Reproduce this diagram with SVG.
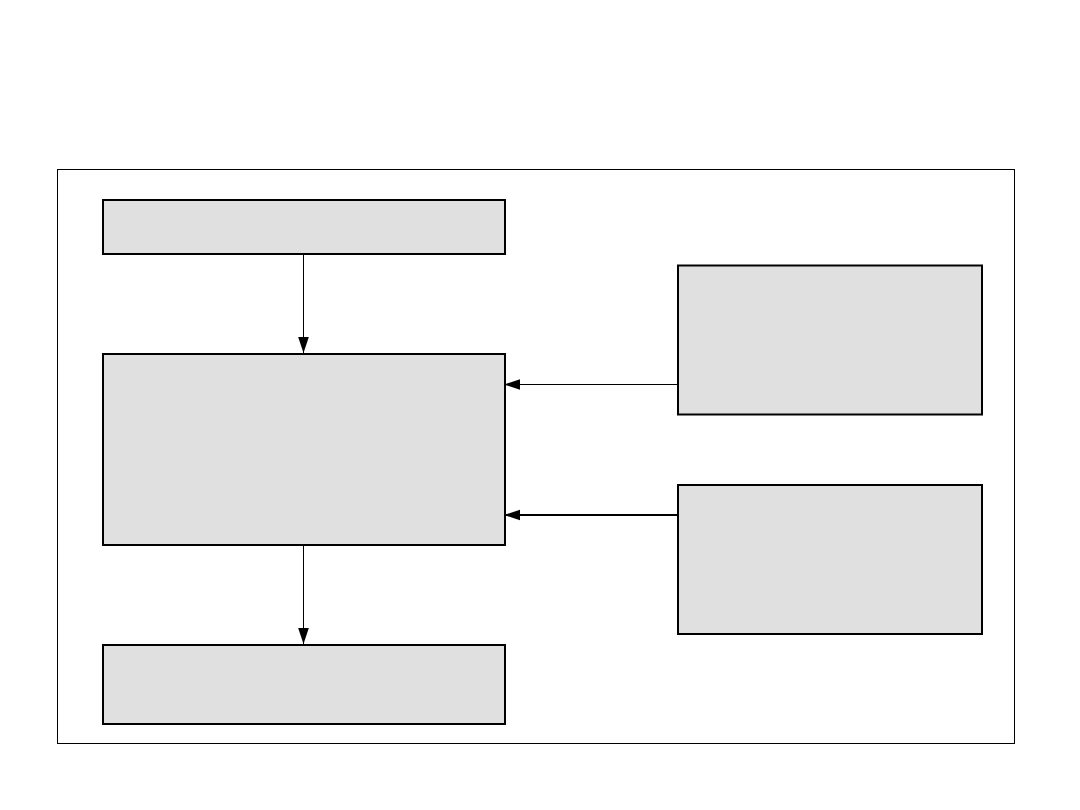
<svg xmlns="http://www.w3.org/2000/svg" width="1080" height="810" viewBox="0 0 1080 810">
<style>
.box{fill:#e0e0e0;stroke:#000;stroke-width:2}
.frame{fill:none;stroke:#000;stroke-width:1}
.edge{stroke:#000;fill:none}
</style>
<defs>
<marker id="ah" markerUnits="userSpaceOnUse" markerWidth="16" markerHeight="12" viewBox="0 0 15 10" refX="15" refY="5" orient="auto">
<path d="M0,0 L15,5 L0,10 Z" fill="#000"/>
</marker>
</defs>
<rect width="1080" height="810" fill="#fff"/>
<rect class="frame" x="57.5" y="169.5" width="957" height="574"/>
<g id="node-top"><rect class="box" x="103" y="200" width="402" height="54"/></g>
<g id="node-center"><rect class="box" x="103" y="354" width="402" height="191"/></g>
<g id="node-bottom"><rect class="box" x="103" y="645" width="402" height="79"/></g>
<g id="node-right1"><rect class="box" x="678" y="265.5" width="304" height="149"/></g>
<g id="node-right2"><rect class="box" x="678" y="485" width="304" height="149"/></g>
<g id="connectors">
<line class="edge" x1="303.5" y1="255" x2="303.5" y2="353" stroke-width="1" marker-end="url(#ah)"/>
<line class="edge" x1="303.5" y1="545" x2="303.5" y2="644" stroke-width="1" marker-end="url(#ah)"/>
<line class="edge" x1="678" y1="384.5" x2="504" y2="384.5" stroke-width="1" marker-end="url(#ah)"/>
<line class="edge" x1="678" y1="515" x2="504" y2="515" stroke-width="2" marker-end="url(#ah)"/>
</g>
</svg>
